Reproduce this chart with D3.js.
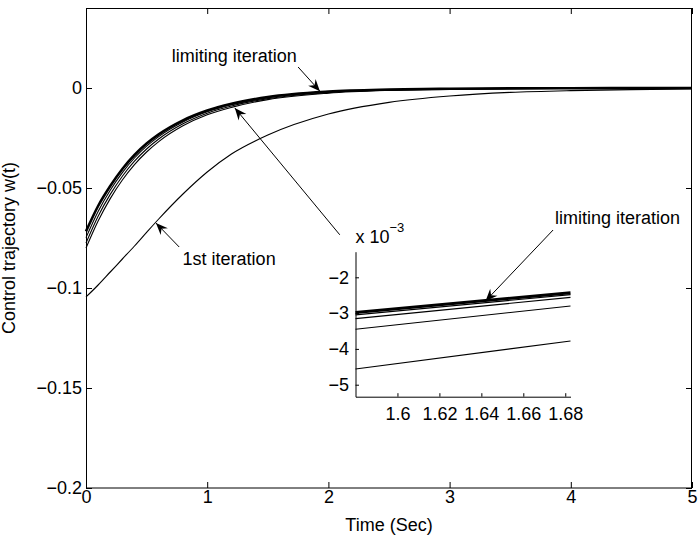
<!DOCTYPE html>
<html>
<head>
<meta charset="utf-8">
<script src="https://cdn.jsdelivr.net/npm/d3@7"></script>
<style>
body { margin: 0; background: #fff; }
text { font-family: "Liberation Sans", Arial, Helvetica, sans-serif; font-size: 18px; fill: #000; }
</style>
</head>
<body>
<svg width="699" height="539"></svg>
<script>
// sample times (sec) and the control trajectories
const times = [0, 0.1, 0.2, 0.3, 0.4, 0.5, 0.6, 0.8, 1.0, 1.2, 1.5, 2.0, 2.5, 3.0, 3.5, 4.0, 4.5, 5.0];
const iter1 = [-0.1045, -0.0985, -0.0920, -0.0855, -0.0790, -0.0722, -0.0655, -0.0530, -0.0420, -0.0330, -0.0235, -0.0130, -0.0072, -0.0040, -0.0022, -0.0013, -0.0008, -0.0005];
const iter2 = [-0.0800, -0.0665, -0.0553, -0.0460, -0.0383, -0.0320, -0.0268, -0.0189, -0.0134, -0.0097, -0.0058, -0.0026, -0.0012, -0.0006, -0.0003, -0.00015, -0.00008, -0.00003];
const iter3 = [-0.0775, -0.0641, -0.0532, -0.0441, -0.0366, -0.0305, -0.0255, -0.0179, -0.0126, -0.0090, -0.0053, -0.0023, -0.0010, -0.0005, -0.00025, -0.00012, -0.00006, -0.00002];
const iter4 = [-0.0748, -0.0617, -0.0511, -0.0423, -0.0350, -0.0291, -0.0243, -0.0170, -0.0119, -0.0084, -0.0049, -0.0020, -0.0009, -0.00045, -0.0002, -0.0001, -0.00005, -0.00001];
const limiting = [-0.0717, -0.0590, -0.0490, -0.0405, -0.0335, -0.0278, -0.0232, -0.0162, -0.0113, -0.0079, -0.0045, -0.0018, -0.0008, -0.0004, -0.0002, -0.0001, -0.00005, 0];

const xTicks = [0, 1, 2, 3, 4, 5];
const yTicks = [-0.2, -0.15, -0.1, -0.05, 0];

// zoomed inset (values in units of 1e-3)
const insetTimes = [1.58, 1.6825];
const insetIter1 = [-4.56, -3.78];
const insetIter2 = [-3.45, -2.80];
const insetIter3 = [-3.155, -2.56];
const insetIter4 = [-3.05, -2.485];
const insetLimiting = [-2.98, -2.43];
const insetXTicks = [1.6, 1.62, 1.64, 1.66, 1.68];
const insetYTicks = [-5, -4, -3, -2];

const svg = d3.select("svg");
const minus = s => s.replace("-", "\u2212");

const x = d3.scaleLinear([0, 5], [86, 692]);
const y = d3.scaleLinear([-0.2, 0.04], [488, 8]);

const line = d3.line().x(d => x(d[0])).y(d => y(d[1])).curve(d3.curveMonotoneX);
const series = [
  {v: iter1, w: 1.1}, {v: iter2, w: 1.1}, {v: iter3, w: 1.1}, {v: iter4, w: 1.1}, {v: limiting, w: 2.6}
];
svg.append("g").selectAll("path")
  .data(series)
  .enter().append("path")
  .attr("fill", "none")
  .attr("stroke", "#000")
  .attr("stroke-width", d => d.w)
  .attr("d", d => line(times.map((t, i) => [t, d.v[i]])));

// axes, ticks pointing inward on all four sides
const fmtY = d => d === 0 ? "0" : minus(String(d));
svg.append("g").attr("transform", "translate(0,488)")
  .call(d3.axisBottom(x).tickValues(xTicks).tickSizeInner(-6).tickSizeOuter(0).tickPadding(2.5).tickFormat(d3.format("d")));
svg.append("g").attr("transform", "translate(0,8)")
  .call(d3.axisTop(x).tickValues(xTicks).tickSizeInner(-6).tickSizeOuter(0).tickFormat(""));
svg.append("g").attr("transform", "translate(86,0)")
  .call(d3.axisLeft(y).tickValues(yTicks).tickSizeInner(-6).tickSizeOuter(0).tickPadding(4).tickFormat(fmtY));
svg.append("g").attr("transform", "translate(692,0)")
  .call(d3.axisRight(y).tickValues(yTicks).tickSizeInner(-6).tickSizeOuter(0).tickFormat(""));
svg.selectAll(".domain").remove();
svg.selectAll(".tick line").attr("stroke", "#000");
svg.append("rect").attr("x", 86.5).attr("y", 8.5).attr("width", 605).attr("height", 479.5)
  .attr("fill", "none").attr("stroke", "#000");

svg.append("text").attr("x", 389).attr("y", 531).attr("text-anchor", "middle").text("Time (Sec)");
svg.append("text").attr("transform", "translate(15,248) rotate(-90)").attr("text-anchor", "middle")
  .text("Control trajectory w(t)");

// inset
const xi = d3.scaleLinear([1.58, 1.6825], [355.5, 570.5]);
const yi = d3.scaleLinear([-5.335, -1.285], [396.7, 251.7]);
const inset = svg.append("g");
const insetSeries = [
  {v: insetIter1, w: 1.1}, {v: insetIter2, w: 1.1}, {v: insetIter3, w: 1.1}, {v: insetIter4, w: 1.1}, {v: insetLimiting, w: 3}
];
inset.selectAll("path.s")
  .data(insetSeries)
  .enter().append("path")
  .attr("class", "s")
  .attr("fill", "none")
  .attr("stroke", "#000")
  .attr("stroke-width", d => d.w)
  .attr("d", d => d3.line()(insetTimes.map((t, i) => [xi(t), yi(d.v[i])])));
inset.append("g").attr("transform", "translate(0,396.7)")
  .call(d3.axisBottom(xi).tickValues(insetXTicks).tickSizeInner(-3.5).tickSizeOuter(0).tickPadding(11).tickFormat(d => String(d)));
inset.append("g").attr("transform", "translate(355.5,0)")
  .call(d3.axisLeft(yi).tickValues(insetYTicks).tickSizeInner(-3.5).tickSizeOuter(0).tickPadding(6.5).tickFormat(d => minus(String(d))));
inset.selectAll(".domain, .tick line").attr("stroke", "#000");
const sci = inset.append("text").attr("x", 355.5).attr("y", 243);
sci.append("tspan").text("x 10");
sci.append("tspan").attr("dy", -11).style("font-size", "13px").text("\u22123");

// annotations
svg.selectAll(".tick text").style("font-size", "18px");
function arrow(x1, y1, x2, y2) {
  svg.append("line").attr("x1", x1).attr("y1", y1).attr("x2", x2).attr("y2", y2)
    .attr("stroke", "#000").attr("stroke-width", 1);
  const a = Math.atan2(y2 - y1, x2 - x1) * 180 / Math.PI;
  svg.append("path").attr("d", "M0,0L-12,-5L-8,0L-12,5Z")
    .attr("transform", `translate(${x2},${y2}) rotate(${a})`)
    .attr("fill", "#000");
}
svg.append("text").attr("x", x(0.707)).attr("y", y(0.01315)).text("limiting iteration");
arrow(x(1.75), y(0.0105), x(1.93), y(-0.0016));
arrow(x(2.094), y(-0.0734), x(1.228), y(-0.0100));
svg.append("text").attr("x", x(0.797)).attr("y", y(-0.0884)).text("1st iteration");
arrow(x(0.769), y(-0.0795), x(0.577), y(-0.0675));
svg.append("text").attr("x", 555).attr("y", 224).text("limiting iteration");
arrow(xi(1.6742), yi(-0.679), xi(1.642), yi(-2.662));
</script>
</body>
</html>
